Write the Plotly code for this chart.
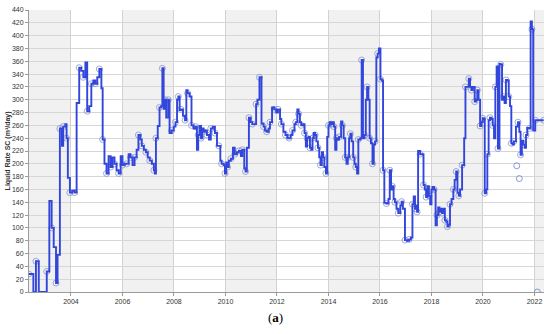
import plotly.graph_objects as go
from datetime import datetime

# Decimal-year positions of each rate step and the step values (m3/day)
years = [
    2002.36, 2002.54, 2002.64, 2002.75, 2003.06, 2003.16, 2003.25, 2003.33, 2003.42, 2003.48,
    2003.57, 2003.65, 2003.70, 2003.78, 2003.83, 2003.88, 2003.96, 2004.05, 2004.14, 2004.22,
    2004.32, 2004.40, 2004.48, 2004.56, 2004.63, 2004.71, 2004.79, 2004.87, 2004.94, 2005.02,
    2005.10, 2005.18, 2005.23, 2005.30, 2005.38, 2005.46, 2005.54, 2005.61, 2005.69, 2005.77,
    2005.85, 2005.93, 2006.00, 2006.08, 2006.16, 2006.24, 2006.31, 2006.39, 2006.47, 2006.55,
    2006.62, 2006.70, 2006.75, 2006.83, 2006.91, 2006.98, 2007.06, 2007.14, 2007.22, 2007.26,
    2007.30, 2007.37, 2007.44, 2007.50, 2007.55, 2007.60, 2007.65, 2007.70, 2007.78, 2007.83,
    2007.91, 2007.99, 2008.06, 2008.12, 2008.17, 2008.22, 2008.27, 2008.35, 2008.43, 2008.48,
    2008.53, 2008.61, 2008.68, 2008.76, 2008.84, 2008.89, 2008.94, 2008.99, 2009.05, 2009.10,
    2009.15, 2009.20, 2009.28, 2009.36, 2009.43, 2009.51, 2009.59, 2009.67, 2009.74, 2009.80,
    2009.85, 2009.93, 2009.98, 2010.03, 2010.08, 2010.13, 2010.21, 2010.29, 2010.36, 2010.44,
    2010.52, 2010.60, 2010.65, 2010.73, 2010.78, 2010.83, 2010.91, 2010.98, 2011.04, 2011.11,
    2011.19, 2011.24, 2011.32, 2011.40, 2011.48, 2011.53, 2011.60, 2011.68, 2011.73, 2011.81,
    2011.89, 2011.97, 2012.04, 2012.12, 2012.17, 2012.25, 2012.33, 2012.41, 2012.47, 2012.53,
    2012.60, 2012.68, 2012.73, 2012.79, 2012.84, 2012.89, 2012.94, 2013.02, 2013.07, 2013.12,
    2013.17, 2013.22, 2013.28, 2013.33, 2013.38, 2013.43, 2013.48, 2013.53, 2013.59, 2013.64,
    2013.69, 2013.74, 2013.79, 2013.84, 2013.90, 2013.95, 2014.00, 2014.05, 2014.10, 2014.16,
    2014.21, 2014.26, 2014.31, 2014.36, 2014.41, 2014.49, 2014.54, 2014.59, 2014.65, 2014.70,
    2014.75, 2014.80, 2014.85, 2014.90, 2014.96, 2015.01, 2015.06, 2015.11, 2015.16, 2015.24,
    2015.29, 2015.34, 2015.40, 2015.45, 2015.50, 2015.55, 2015.60, 2015.65, 2015.71, 2015.76,
    2015.81, 2015.86, 2015.91, 2015.96, 2016.02, 2016.07, 2016.12, 2016.17, 2016.25, 2016.33,
    2016.38, 2016.43, 2016.48, 2016.53, 2016.58, 2016.64, 2016.71, 2016.79, 2016.84, 2016.89,
    2016.97, 2017.05, 2017.13, 2017.20, 2017.26, 2017.31, 2017.36, 2017.40, 2017.44, 2017.48,
    2017.56, 2017.61, 2017.69, 2017.74, 2017.79, 2017.84, 2017.90, 2017.95, 2018.00, 2018.05,
    2018.10, 2018.16, 2018.21, 2018.26, 2018.31, 2018.36, 2018.41, 2018.47, 2018.52, 2018.57,
    2018.62, 2018.67, 2018.72, 2018.78, 2018.85, 2018.90, 2018.96, 2019.01, 2019.06, 2019.11,
    2019.19, 2019.27, 2019.32, 2019.37, 2019.45, 2019.50, 2019.55, 2019.60, 2019.68, 2019.73,
    2019.78, 2019.83, 2019.89, 2019.94, 2019.99, 2020.04, 2020.07, 2020.12, 2020.17, 2020.22,
    2020.27, 2020.33, 2020.38, 2020.43, 2020.48, 2020.53, 2020.58, 2020.64, 2020.69, 2020.74,
    2020.79, 2020.84, 2020.89, 2020.94, 2021.00, 2021.05, 2021.10, 2021.15, 2021.20, 2021.28,
    2021.36, 2021.41, 2021.46, 2021.51, 2021.57, 2021.62, 2021.67, 2021.72, 2021.80, 2021.85,
    2021.90, 2021.95, 2022.03, 2022.11, 2022.36,
]
rates = [
    28, 0, 48, 0, 32, 142, 100, 70, 14, 58,
    255, 228, 258, 262, 240, 178, 155, 158, 155, 295,
    350, 345, 335, 358, 282, 290, 325, 330, 325, 335,
    348, 318, 238, 200, 185, 212, 195, 210, 200, 190,
    185, 212, 198, 200, 200, 215, 210, 198, 210, 222,
    245, 238, 228, 222, 218, 210, 205, 200, 190, 185,
    240, 259, 288, 290, 349, 286, 300, 272, 300, 248,
    252, 258, 265, 300, 305, 284, 285, 275, 268, 315,
    310, 305, 260, 255, 258, 222, 245, 259, 240, 255,
    250, 252, 245, 238, 255, 258, 248, 228, 228, 205,
    200, 198, 185, 202, 195, 205, 208, 225, 215, 218,
    220, 212, 222, 193, 188, 225, 272, 265, 262, 262,
    293, 300, 335, 263, 258, 252, 250, 255, 265, 288,
    285, 280, 285, 270, 262, 250, 245, 240, 240, 245,
    252, 262, 265, 285, 278, 265, 260, 262, 248, 227,
    240, 242, 225, 222, 240, 248, 245, 235, 225, 210,
    198, 218, 210, 195, 185, 242, 260, 265, 262, 265,
    258, 222, 240, 238, 242, 266, 260, 240, 210, 200,
    210, 240, 247, 235, 210, 200, 195, 185, 238, 240,
    362, 240, 245, 300, 320, 300, 240, 232, 200, 230,
    235, 366, 372, 380, 332, 330, 190, 139, 138, 145,
    190, 160, 165, 145, 140, 130, 123, 135, 141, 130,
    81, 80, 82, 85, 137, 149, 130, 135, 125, 220,
    215, 215, 167, 160, 148, 165, 150, 137, 160, 164,
    160, 104, 120, 132, 125, 130, 123, 130, 112, 110,
    102, 105, 137, 145, 160, 175, 188, 155, 150, 160,
    198, 240, 320, 320, 333, 320, 315, 320, 297, 300,
    315, 300, 259, 265, 271, 270, 154, 160, 215, 268,
    272, 270, 260, 240, 320, 352, 224, 356, 355, 300,
    305, 295, 331, 330, 305, 290, 232, 230, 235, 258,
    265, 250, 214, 236, 230, 225, 245, 256, 255, 422,
    410, 252, 268, 268, 268,
]

# Isolated observed points (hollow circles off the line)
extra_years = [2021.31, 2021.41, 2022.11]
extra_rates = [197, 177, 0]

tick_years = [2004, 2006, 2008, 2010, 2012, 2014, 2016, 2018, 2020, 2022]
shade_bands = [(2002.0, 2004), (2006, 2008), (2010, 2012), (2014, 2016), (2018, 2020), (2022, 2023)]
x_range = (2002.37, 2022.37)


def to_date(y):
    yr = int(y)
    start = datetime(yr, 1, 1)
    end = datetime(yr + 1, 1, 1)
    d = start + (end - start) * (y - yr)
    return d.strftime("%Y-%m-%d %H:%M:%S")


dates = [to_date(y) for y in years]
extra_dates = [to_date(y) for y in extra_years]

fig = go.Figure()

# Marker halos (every other step point)
fig.add_trace(go.Scatter(
    x=dates[::2], y=rates[::2], mode="markers",
    marker=dict(symbol="circle-open", size=6, color="rgba(120,135,200,0.7)", line=dict(width=1)),
    hoverinfo="skip", showlegend=False,
))
fig.add_trace(go.Scatter(
    x=extra_dates, y=extra_rates, mode="markers",
    marker=dict(symbol="circle-open", size=6, color="rgba(120,135,200,0.85)", line=dict(width=1)),
    showlegend=False,
))
fig.add_trace(go.Scatter(
    x=dates, y=rates, mode="lines", line=dict(shape="hv", color="#3346dc", width=1.9),
    showlegend=False,
))

shapes = []
for a, b in shade_bands:
    shapes.append(dict(type="rect", xref="x", yref="paper", x0=to_date(a), x1=to_date(b),
                       y0=0, y1=1, fillcolor="#f1f1f1", line=dict(width=0), layer="below"))

fig.update_layout(
    width=550, height=334,
    margin=dict(l=29, r=6, t=10, b=42),
    paper_bgcolor="white", plot_bgcolor="white",
    shapes=shapes,
    font=dict(family="Liberation Sans, Arial, sans-serif", size=7, color="#333"),
    xaxis=dict(
        type="date", automargin=False,
        range=[to_date(x_range[0]), to_date(x_range[1])],
        tickvals=[f"{y}-01-01" for y in tick_years],
        ticktext=[str(y) for y in tick_years],
        showgrid=True, gridcolor="#d2d2d2", gridwidth=1,
        showline=True, linecolor="#9a9a9a", linewidth=1,
        ticks="outside", ticklen=3, tickcolor="#9a9a9a",
        tickfont=dict(size=7, color="#333"),
        zeroline=False,
    ),
    yaxis=dict(
        automargin=False,
        range=[0, 440], dtick=20, tick0=0,
        showgrid=True, gridcolor="#d6d6d6", gridwidth=1,
        showline=True, linecolor="#9a9a9a", linewidth=1, mirror=False,
        ticks="outside", ticklen=3, tickcolor="#9a9a9a",
        tickfont=dict(size=7, color="#333"),
        zeroline=False,
    ),
    annotations=[
        dict(text="<b>Liquid Rate SC (m³/day)</b>", textangle=-90, xref="paper", yref="paper",
             x=-0.04, y=0.5, xanchor="center", yanchor="middle", showarrow=False,
             font=dict(size=7, color="#333")),
        dict(text="(<b>a</b>)", xref="paper", yref="paper", x=0.478, y=-0.092,
             xanchor="center", yanchor="middle", showarrow=False,
             font=dict(size=13, color="black", family="Liberation Serif, Times New Roman, serif")),
    ],
)

fig.write_html(
    "out.html",
    config={"displayModeBar": False},
    post_script="document.body.style.margin='0';document.body.style.padding='0';",
)
